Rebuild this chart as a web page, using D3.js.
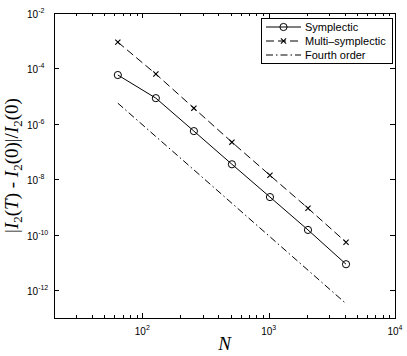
<!DOCTYPE html>
<html>
<head>
<meta charset="utf-8">
<script src="https://cdn.jsdelivr.net/npm/d3@7"></script>
<style>
  body { margin: 0; background: #fff; }
  svg { display: block; }
</style>
</head>
<body>
<div id="chart"></div>
<script>
const width = 407;
const height = 356;
const margin = { top: 13, right: 12, bottom: 38, left: 54 };

// data
const N = [64, 128, 256, 512, 1024, 2048, 4096];
const symplectic = [5.8e-5, 8.5e-6, 5.5e-7, 3.5e-8, 2.3e-9, 1.5e-10, 8.7e-12];
const multiSymplectic = [8.9e-4, 6.3e-5, 3.7e-6, 2.2e-7, 1.4e-8, 9.1e-10, 5.4e-11];
const fourthOrder = [5.6e-6, 3.5e-7, 2.2e-8, 1.37e-9, 8.5e-11, 5.3e-12, 3.3e-13];
const xTicks = [1e2, 1e3, 1e4];
const yTicks = [1e-12, 1e-10, 1e-8, 1e-6, 1e-4, 1e-2];
const seriesNames = ['Symplectic', 'Multi\u2013symplectic', 'Fourth order'];

const x = d3.scaleLog().domain([20, 1e4]).range([margin.left, width - margin.right]);
const y = d3.scaleLog().domain([1e-13, 1e-2]).range([height - margin.bottom, margin.top]);

const svg = d3.select('#chart').append('svg')
  .attr('width', width)
  .attr('height', height);

const x0 = margin.left, x1 = width - margin.right;
const y0 = height - margin.bottom, y1 = margin.top;

// minor x ticks (every integer multiple inside the domain)
const xMinor = [];
for (let e = 1; e <= 4; e++) {
  for (let m = 1; m < 10; m++) {
    const v = m * Math.pow(10, e);
    if (v >= 20 && v <= 1e4) xMinor.push(v);
  }
}

const tickG = svg.append('g').attr('stroke', '#000').attr('stroke-width', 1);
xMinor.forEach((v) => {
  const px = Math.round(x(v)) + 0.5;
  const len = xTicks.includes(v) ? 5 : 3;
  tickG.append('line').attr('x1', px).attr('x2', px).attr('y1', y0).attr('y2', y0 - len);
  tickG.append('line').attr('x1', px).attr('x2', px).attr('y1', y1).attr('y2', y1 + len);
});
yTicks.forEach((v) => {
  const py = Math.round(y(v)) + 0.5;
  tickG.append('line').attr('x1', x0).attr('x2', x0 + 5).attr('y1', py).attr('y2', py);
  tickG.append('line').attr('x1', x1).attr('x2', x1 - 5).attr('y1', py).attr('y2', py);
});

// frame
svg.append('rect')
  .attr('x', x0 + 0.5).attr('y', y1 + 0.5)
  .attr('width', x1 - x0).attr('height', y0 - y1)
  .attr('fill', 'none').attr('stroke', '#000').attr('stroke-width', 1);

const tickFont = "'Liberation Sans', Arial, sans-serif";

// x tick labels
xTicks.forEach((v) => {
  const t = svg.append('text')
    .attr('x', x(v)).attr('y', y0 + 17)
    .attr('text-anchor', 'middle')
    .style('font', `10px ${tickFont}`);
  t.append('tspan').text('10');
  t.append('tspan').attr('dy', -5).style('font-size', '7px').text(Math.log10(v).toFixed(0));
});

// y tick labels
yTicks.forEach((v) => {
  const t = svg.append('text')
    .attr('x', x0 - 27).attr('y', y(v) + 5)
    .style('font', `10px ${tickFont}`);
  t.append('tspan').text('10');
  t.append('tspan').attr('dy', -5).style('font-size', '7px').text('-' + Math.abs(Math.log10(v)).toFixed(0));
});

// series
const line = d3.line().x((d, i) => x(N[i])).y((d) => y(d));

const styles = [
  { data: symplectic, dash: null, marker: 'circle' },
  { data: multiSymplectic, dash: '8,4', marker: 'cross' },
  { data: fourthOrder, dash: '7,3,1.5,3', marker: null },
];

function drawMarker(g, type, cx, cy) {
  if (type === 'circle') {
    g.append('circle').attr('cx', cx).attr('cy', cy).attr('r', 3.6)
      .attr('fill', 'none').attr('stroke', '#000').attr('stroke-width', 1);
  } else if (type === 'cross') {
    const s = 2.6;
    g.append('path')
      .attr('d', `M${cx - s},${cy - s}L${cx + s},${cy + s}M${cx - s},${cy + s}L${cx + s},${cy - s}`)
      .attr('stroke', '#000').attr('stroke-width', 1.1);
  }
}

styles.forEach((s) => {
  svg.append('path')
    .datum(s.data)
    .attr('d', line)
    .attr('fill', 'none')
    .attr('stroke', '#000')
    .attr('stroke-width', 1)
    .attr('stroke-dasharray', s.dash);
  const mg = svg.append('g');
  s.data.forEach((d, i) => drawMarker(mg, s.marker, x(N[i]), y(d)));
});

// legend
const leg = svg.append('g');
leg.append('rect')
  .attr('x', 261.5).attr('y', 18.5).attr('width', 131).attr('height', 45)
  .attr('fill', '#fff').attr('stroke', '#000').attr('stroke-width', 1);
const rowY = [27, 41, 55];
styles.forEach((s, i) => {
  leg.append('line')
    .attr('x1', 266).attr('x2', 301).attr('y1', rowY[i]).attr('y2', rowY[i])
    .attr('stroke', '#000').attr('stroke-width', 1)
    .attr('stroke-dasharray', s.dash);
  drawMarker(leg, s.marker, 283.5, rowY[i]);
  leg.append('text')
    .attr('x', 305).attr('y', rowY[i] + 4)
    .style('font', `11px ${tickFont}`)
    .text(seriesNames[i]);
});

// axis labels
const serif = "'Liberation Serif', 'Times New Roman', serif";
svg.append('text')
  .attr('x', (x0 + x1) / 2).attr('y', 350)
  .attr('text-anchor', 'middle')
  .style('font', `italic 19px ${serif}`)
  .text('N');

const yl = svg.append('text')
  .attr('transform', `translate(18, ${(y0 + y1) / 2}) rotate(-90)`)
  .attr('text-anchor', 'middle')
  .style('font', `19px ${serif}`);
// [text, kind]: 0 upright, 1 italic, 2 subscript
const parts = [
  ['|', 0], ['I', 1], ['2', 2], ['(', 0], ['T', 1], [')', 0], [' - ', 0],
  ['I', 1], ['2', 2], ['(0)|/', 0], ['I', 1], ['2', 2], ['(0)', 0],
];
parts.forEach(([txt, kind], i) => {
  const ts = yl.append('tspan').text(txt);
  if (kind === 1) ts.style('font-style', 'italic');
  if (kind === 2) ts.style('font-size', '13px').attr('dy', 4);
  else if (i > 0 && parts[i - 1][1] === 2) ts.attr('dy', -4);
});
</script>
</body>
</html>
